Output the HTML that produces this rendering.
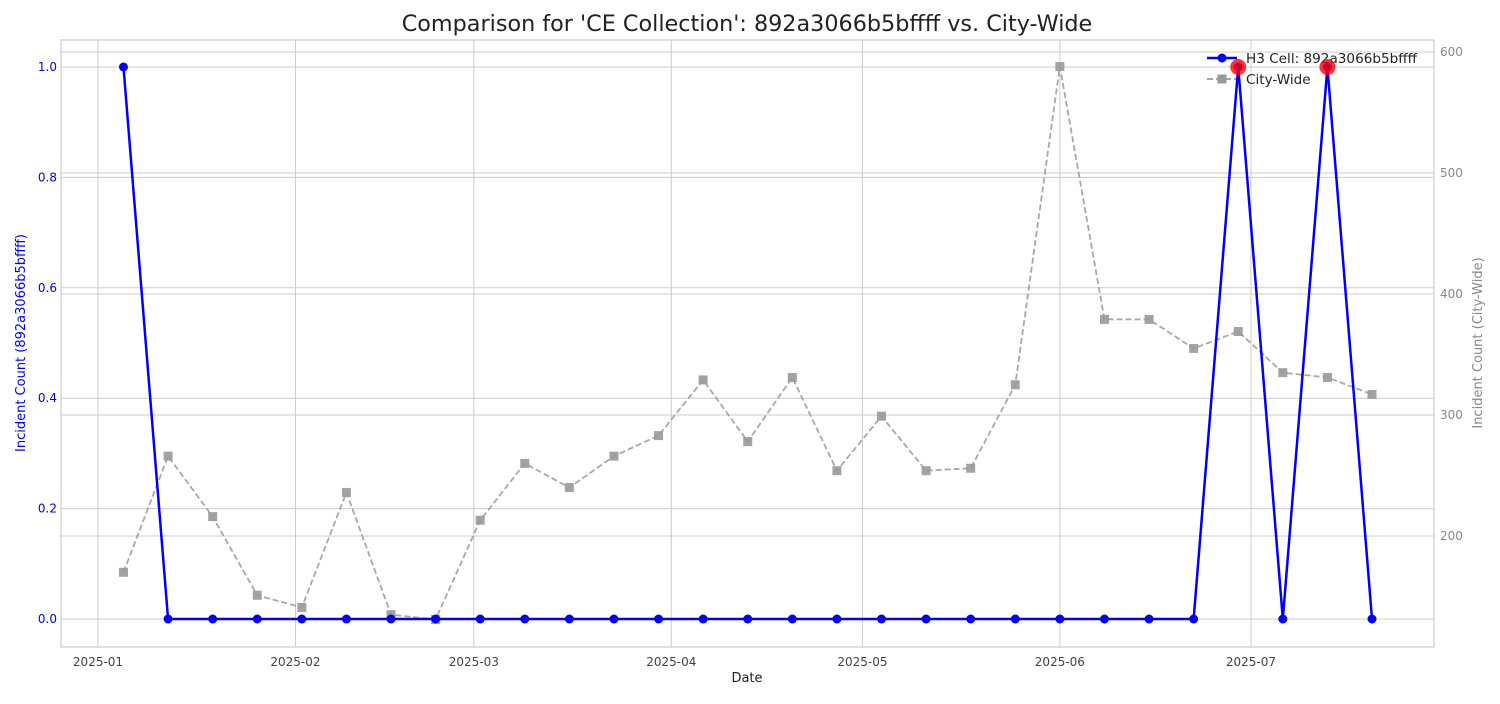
<!DOCTYPE html>
<html><head><meta charset="utf-8"><style>
body{margin:0;background:#fff;font-family:"DejaVu Sans","Liberation Sans",sans-serif;}
svg text{font-family:"DejaVu Sans","Liberation Sans",sans-serif;}
</style></head><body>
<svg id="chart" width="1500" height="700" xmlns="http://www.w3.org/2000/svg">
<text x="747" y="31" font-size="22.3" text-anchor="middle" fill="#222">Comparison for 'CE Collection': 892a3066b5bffff vs. City-Wide</text>
<g id="grid"></g><g id="axes"></g>
<g>
<g><line x1="1207" y1="58" x2="1237" y2="58" stroke="blue" stroke-width="2.5"/><circle cx="1222" cy="58" r="4.5" fill="blue"/><text x="1246" y="63" font-size="13.6" fill="#222">H3 Cell: 892a3066b5bffff</text></g>
<g><line x1="1207" y1="79" x2="1237" y2="79" stroke="#999" stroke-width="1.8" stroke-dasharray="6,3"/><rect x="1217.5" y="74.5" width="9" height="9" fill="#999"/><text x="1246" y="84" font-size="13.6" fill="#222">City-Wide</text></g>
</g>
<g id="marks"></g>
<rect x="61" y="40" width="1373" height="607" fill="none" stroke="#ccc" stroke-width="1.2"/>
<text x="747" y="682" font-size="13" text-anchor="middle" fill="#222">Date</text>
<text transform="translate(25,343) rotate(-90)" font-size="13" text-anchor="middle" fill="blue">Incident Count (892a3066b5bffff)</text>
<text transform="translate(1482,343) rotate(-90)" font-size="13" text-anchor="middle" fill="#888">Incident Count (City-Wide)</text>
</svg>
<script>
const dates=["2025-01-05","2025-01-12","2025-01-19","2025-01-26","2025-02-02","2025-02-09","2025-02-16","2025-02-23","2025-03-02","2025-03-09","2025-03-16","2025-03-23","2025-03-30","2025-04-06","2025-04-13","2025-04-20","2025-04-27","2025-05-04","2025-05-11","2025-05-18","2025-05-25","2025-06-01","2025-06-08","2025-06-15","2025-06-22","2025-06-29","2025-07-06","2025-07-13","2025-07-20"];
const cellCounts=[1,0,0,0,0,0,0,0,0,0,0,0,0,0,0,0,0,0,0,0,0,0,0,0,0,1,0,1,0];
const cityCounts=[170,266,216,151,141,236,135,131,213,260,240,266,283,329,278,331,254,299,254,256,325,588,379,379,355,369,335,331,317];
const xTicks=["2025-01","2025-02","2025-03","2025-04","2025-05","2025-06","2025-07"];
const leftTicks=[0,0.2,0.4,0.6,0.8,1.0];
const rightTicks=[200,300,400,500,600];
const NS="http://www.w3.org/2000/svg";
const day0=Date.UTC(2025,0,1);
function xs(d){const t=(Date.parse(d+(d.length==7?"-01":""))-day0)/86400000;return 98+t*6.370;}
function yl(v){return 619-v*552;}
function yr(v){return 52+(600-v)*1.21;}
function mk(tag,at,parent){const e=document.createElementNS(NS,tag);for(const k in at)e.setAttribute(k,at[k]);document.getElementById(parent).appendChild(e);return e;}
xTicks.forEach(t=>{const x=xs(t);
const g=mk("line",{x1:x,x2:x,y1:40,y2:647,stroke:"#ccc"},"grid");


const l=mk("text",{x:x,y:666,"font-size":12,"text-anchor":"middle",fill:"#444"},"axes");l.textContent=t;

});
leftTicks.forEach(t=>{const y=yl(t);
const g=mk("line",{x1:61,x2:1434,y1:y,y2:y,stroke:"#ccc"},"grid");


const l=mk("text",{x:57,y:y+4,"font-size":12,"text-anchor":"end",fill:"blue"},"axes");l.textContent=t.toFixed(1);

});
rightTicks.forEach(t=>{const y=yr(t);
const g=mk("line",{x1:61,x2:1434,y1:y,y2:y,stroke:"#ccc"},"grid");


const l=mk("text",{x:1440,y:y+4,"font-size":12,fill:"#888"},"axes");l.textContent=t;

});
const cp=mk("polyline",{points:dates.map((d,i)=>xs(d)+","+yr(cityCounts[i])).join(" "),fill:"none",stroke:"#999","stroke-opacity":0.85,"stroke-width":1.8,"stroke-dasharray":"6,3"},"marks");


dates.forEach((d,i)=>{const r=mk("rect",{x:xs(d)-4.5,y:yr(cityCounts[i])-4.5,width:9,height:9,fill:"#999","fill-opacity":0.9},"marks");

});
const hp=mk("polyline",{points:dates.map((d,i)=>xs(d)+","+yl(cellCounts[i])).join(" "),fill:"none",stroke:"blue","stroke-width":2.5},"marks");


dates.forEach((d,i)=>{const c=mk("circle",{cx:xs(d),cy:yl(cellCounts[i]),r:4.5,fill:"blue"},"marks");


if(i>0&&cellCounts[i]>=1){const h=mk("circle",{cx:xs(d),cy:yl(cellCounts[i]),r:8,fill:"red","fill-opacity":0.8},"marks");

}});
</script>
</body></html>
